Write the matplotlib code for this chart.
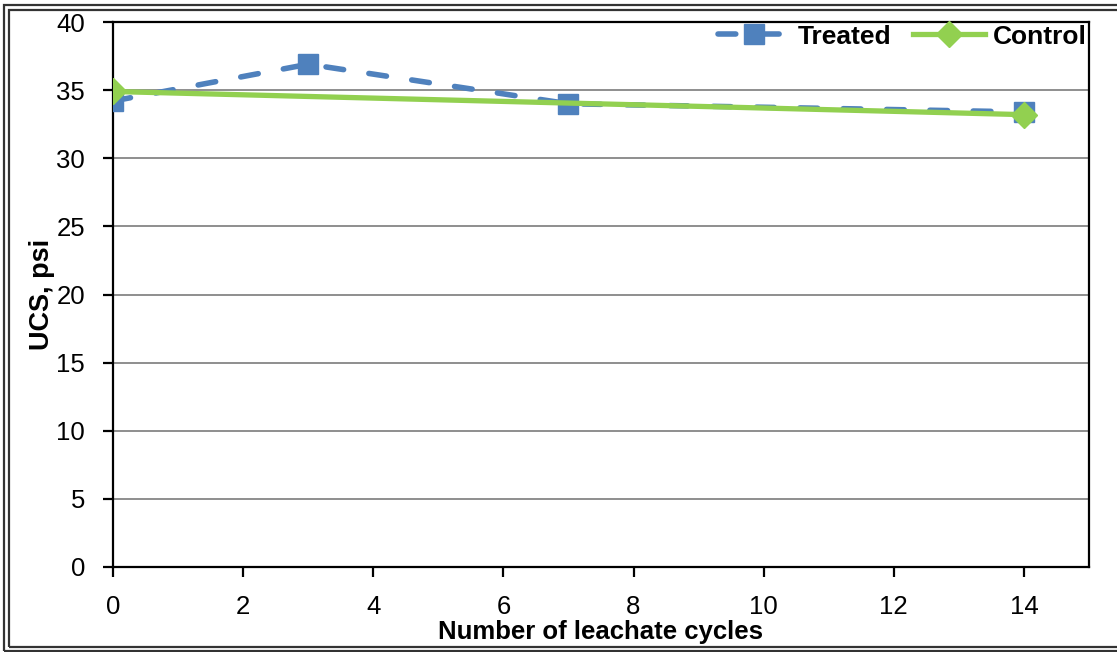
import matplotlib
matplotlib.use("Agg")
import matplotlib.pyplot as plt
from matplotlib.patches import Rectangle

# UCS results over leachate cycles
treated_cycles = [0, 3, 7, 14]
treated_ucs = [34.2, 36.9, 34.0, 33.4]
control_cycles = [0, 14]
control_ucs = [34.9, 33.2]

x_ticks = [0, 2, 4, 6, 8, 10, 12, 14]
y_ticks = [0, 5, 10, 15, 20, 25, 30, 35, 40]

plt.rcParams['font.family'] = ['Liberation Sans', 'DejaVu Sans']

fig = plt.figure(figsize=(11.17, 6.52), dpi=100)
ax = fig.add_axes([113 / 1117, 85 / 652, (1089 - 113) / 1117, (567 - 22) / 652])

ax.set_xlim(0, 15)
ax.set_ylim(0, 40)
ax.set_xticks(x_ticks)
ax.set_yticks(y_ticks)

for yv in y_ticks[1:-1]:
    ax.axhline(yv, color='#868686', lw=1.3, zorder=1)

ax.plot(treated_cycles, treated_ucs, color='#4F81BD', lw=4, ls=(0, (3.2, 4.6)),
        marker='s', ms=14.5, mfc='#4F81BD', mec='#4F81BD', label='Treated', zorder=3,
        dash_capstyle='round')
ax.plot(control_cycles, control_ucs, color='#92D050', lw=3.8, marker='D', ms=13,
        mfc='#92D050', mec='#92D050', label='Control', zorder=4)

for s in ax.spines.values():
    s.set_linewidth(1.6)
    s.set_color('black')

ax.tick_params(axis='both', direction='out', length=7, width=1.6, labelsize=18.5)
ax.tick_params(axis='x', pad=13)
ax.tick_params(axis='y', pad=13)

ax.set_xlabel('Number of leachate cycles', fontsize=18.5, fontweight='bold', labelpad=1)
ax.set_ylabel('UCS, psi', fontsize=19.5, fontweight='bold', labelpad=1)

leg = ax.legend(loc='upper right', bbox_to_anchor=(1.0, 1.0), ncol=2, frameon=False,
                prop={'weight': 'bold', 'size': 19}, handlelength=2.7,
                handletextpad=0.3, columnspacing=0.85, borderaxespad=0.1,
                borderpad=0.0)

# double frame around the whole figure
fig.patches.append(Rectangle((4 / 1117, 1.5 / 652), 1.2, 1 - 6 / 652, transform=fig.transFigure,
                             fill=False, lw=1.6, ec='#333333'))
fig.patches.append(Rectangle((9.5 / 1117, 5.5 / 652), 1.2, 1 - 15 / 652, transform=fig.transFigure,
                             fill=False, lw=1.6, ec='#333333'))

fig.savefig('out.png', dpi=100)
